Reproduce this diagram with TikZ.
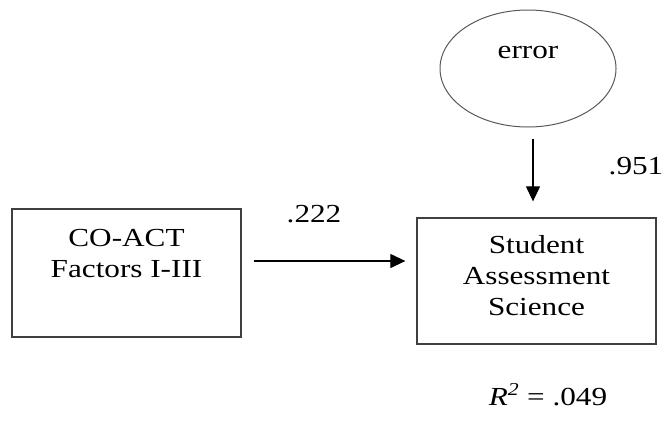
\documentclass[tikz,border=0pt]{standalone}
\usepackage{fontspec}
\setmainfont{Liberation Serif}[FakeStretch=1.2]
\usetikzlibrary{arrows.meta,shapes.geometric}
\begin{document}
\begin{tikzpicture}[x=1pt,y=-1pt,
  every node/.style={font=\fontsize{26}{31}\selectfont},
  boxnode/.style={draw=black!75,line width=1.3pt,rectangle,inner sep=0pt},
  ellnode/.style={draw=black!65,line width=1pt,ellipse,inner sep=0pt,minimum width=176pt,minimum height=117pt},
  txt/.style={align=center,inner sep=0pt,anchor=north},
  arr/.style={draw=black,line width=1.2pt,-{Triangle[length=15pt,width=14pt]}}]
\useasboundingbox (0,0) rectangle (668,424);
\node[boxnode,minimum width=229pt,minimum height=128pt] (coact) at (126.5,273) {};
\node[txt] (coactt) at (126.5,229.5) {CO-ACT\\Factors I-III};
\node[boxnode,minimum width=239pt,minimum height=126pt] (sas) at (536.5,281) {};
\node[txt] (sast) at (536.5,235.5) {Student\\Assessment\\Science};
\node[ellnode] (err) at (528,68.5) {};
\node[anchor=base,inner sep=0pt] (errt) at (528,58) {error};
\draw[arr] ([shift={(12pt,12pt)}]coact.east) -- ([shift={(-11pt,20pt)}]sas.west);
\draw[arr] ([shift={(5pt,-11pt)}]err.south) -- ([shift={(-3.5pt,16pt)}]sas.north);
\node[anchor=base,inner sep=0pt] (l222) at (314,222) {.222};
\node[anchor=base,inner sep=0pt] (l951) at (636,174) {.951};
\node[anchor=base,inner sep=0pt] (r2) at (548,405) {\textit{R}\textsuperscript{\textit{2}} = .049};
\end{tikzpicture}
\end{document}
